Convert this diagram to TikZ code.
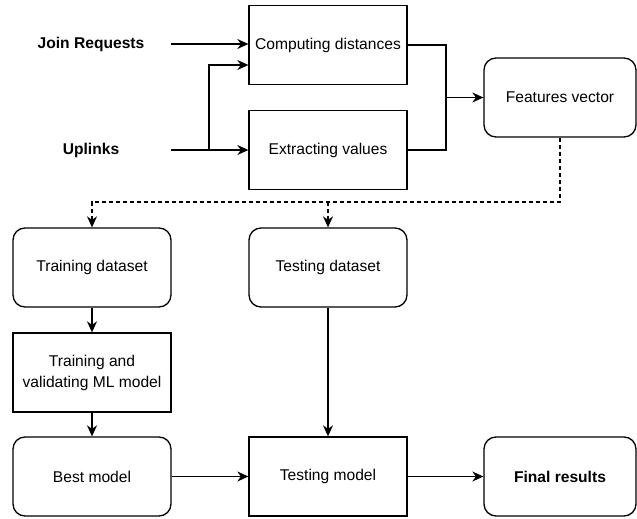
\documentclass[tikz,border=0pt]{standalone}
\usepackage{fontspec}
\setmainfont{Liberation Sans}
\usetikzlibrary{arrows.meta,calc}
\begin{document}
\begin{tikzpicture}[x=1pt,y=-1pt,
  box/.style={draw,line width=1.3pt,minimum width=158pt,minimum height=79pt,inner sep=2pt,align=center,font=\fontsize{15.6}{21}\selectfont},
  rbox/.style={box,rounded corners=12pt},
  lbl/.style={font=\fontsize{15.6}{21}\selectfont\bfseries},
  conn/.style={line width=1.3pt},
  arr/.style={conn,-{Stealth[length=11pt,width=10pt,inset=3.5pt]}},
  darr/.style={arr,dash pattern=on 4pt off 3pt}
]
\useasboundingbox (0,0) rectangle (637,519);
\node[box]  (cd)  at (328,45)    {Computing distances};
\node[box]  (ev)  at (328,150)   {Extracting values};
\node[rbox,minimum width=152pt] (fv) at (560,97.5) {Features vector};
\node[rbox] (td)  at (92,267.5)  {Training dataset};
\node[rbox] (tsd) at (328,267.5) {Testing dataset};
\node[box]  (tv)  at (92,372.5)  {Training and\\validating ML model};
\node[rbox] (bm)  at (92,476.5)  {Best model};
\node[box]  (tm)  at (328,476.5) {Testing model};
\node[rbox,minimum width=152pt] (fr) at (560,476.5) {\bfseries Final results};
\node[lbl] (jr) at (91,44)  {Join Requests};
\node[lbl] (ul) at (91,150) {Uplinks};
\coordinate (jrs) at (171,44);
\coordinate (uls) at (171,150);
\coordinate (br)  at (209,150);
\coordinate (cdin) at ($(cd.west)+(0,20)$);
\coordinate (mj)  at (446,97.5);
\coordinate (dj)  at (560,202);
\draw[arr] (jrs) -- (jrs -| cd.west);
\draw[arr] (uls) -- (ev.west);
\draw[arr] (br) |- (cdin);
\draw[conn] (cd.east) -| (mj);
\draw[conn] (ev.east) -| (mj);
\draw[arr] (mj) -- (fv.west);
\draw[darr] (fv.south) -- (dj) -| (td.north);
\draw[darr] (dj -| tsd.north) -- (tsd.north);
\draw[arr] (td) -- (tv);
\draw[arr] (tv) -- (bm);
\draw[arr] (bm) -- (tm);
\draw[arr] (tsd) -- (tm);
\draw[arr] (tm) -- (fr);
\end{tikzpicture}
\end{document}
